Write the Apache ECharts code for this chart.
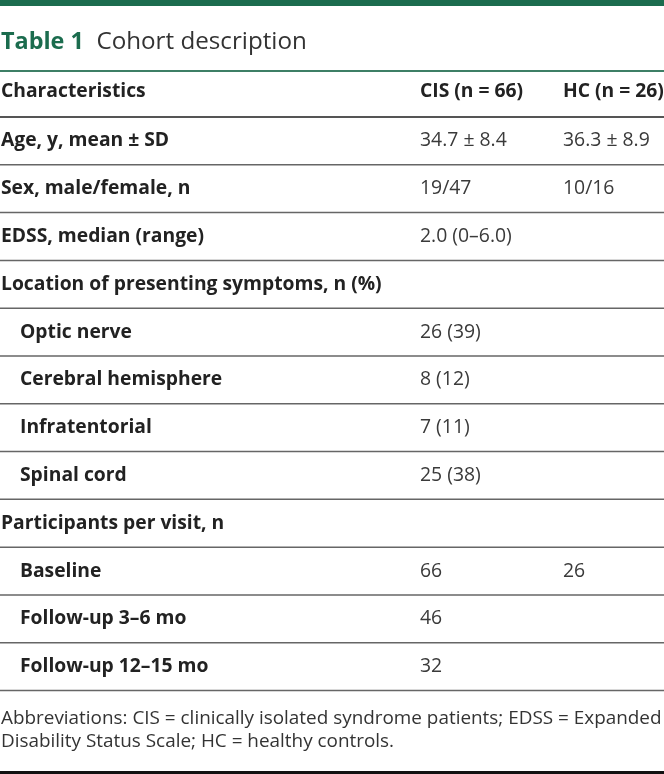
<!DOCTYPE html>
<html>
<head>
<meta charset="utf-8">
<script src="https://cdn.jsdelivr.net/npm/echarts@6/dist/echarts.min.js"></script>
<style>
  html, body { margin: 0; padding: 0; background: #ffffff; }
  #chart { width: 664px; height: 774px; }
</style>
</head>
<body>
<div id="chart"></div>
<script>
// ---- Table content ----
const tableTitleBold = 'Table 1';
const tableTitleText = 'Cohort description';
const headers = ['Characteristics', 'CIS (n = 66)', 'HC (n = 26)'];
const rowLabels = [
  'Age, y, mean ± SD',
  'Sex, male/female, n',
  'EDSS, median (range)',
  'Location of presenting symptoms, n (%)',
  'Optic nerve',
  'Cerebral hemisphere',
  'Infratentorial',
  'Spinal cord',
  'Participants per visit, n',
  'Baseline',
  'Follow-up 3–6 mo',
  'Follow-up 12–15 mo'
];
const cisValues = ['34.7 ± 8.4', '19/47', '2.0 (0–6.0)', '', '26 (39)', '8 (12)', '7 (11)', '25 (38)', '', '66', '46', '32'];
const hcValues = ['36.3 ± 8.9', '10/16', '', '', '', '', '', '', '', '26', '', ''];
const rowLevel = [0, 0, 0, 0, 1, 1, 1, 1, 0, 1, 1, 1];
const footnoteLines = [
  'Abbreviations: CIS = clinically isolated syndrome patients; EDSS = Expanded',
  'Disability Status Scale; HC = healthy controls.'
];

// ---- Layout / style ----
const W = 664, H = 774;
const FONT = '"Open Sans", "Noto Sans", sans-serif';
const GREEN = '#1b6c4e';
const colX = [1, 420, 563];
const indentX = 20;
const bodyTop = 117, bodyBottom = 690.5;
const LABEL_FONT = 'bold 19.3px ' + FONT;
const VALUE_FONT = '19.4px ' + FONT;

const chart = echarts.init(document.getElementById('chart'), null, { renderer: 'canvas' });

const option = {
  backgroundColor: '#ffffff',
  animation: false,
  grid: { left: 0, right: 0, top: bodyTop, bottom: H - bodyBottom, containLabel: false },
  xAxis: { type: 'value', min: 0, max: 1, show: false },
  yAxis: {
    type: 'category',
    data: rowLabels,
    inverse: true,
    show: false
  },
  series: [{
    type: 'custom',
    coordinateSystem: 'cartesian2d',
    data: rowLabels.map((_, i) => [0, i]),
    renderItem: function (params, api) {
      const i = api.value(1);
      const cy = api.coord([0, i])[1];
      const band = api.size([0, 1])[1];
      const children = [];
      children.push({
        type: 'text',
        style: {
          x: rowLevel[i] ? indentX : colX[0], y: cy,
          text: rowLabels[i],
          font: LABEL_FONT,
          fill: '#222222',
          verticalAlign: 'middle', align: 'left'
        }
      });
      if (cisValues[i]) children.push({
        type: 'text',
        style: {
          x: colX[1], y: cy, text: cisValues[i],
          font: VALUE_FONT, fill: '#3a3a3a',
          verticalAlign: 'middle', align: 'left'
        }
      });
      if (hcValues[i]) children.push({
        type: 'text',
        style: {
          x: colX[2], y: cy, text: hcValues[i],
          font: VALUE_FONT, fill: '#3a3a3a',
          verticalAlign: 'middle', align: 'left'
        }
      });
      children.push({
        type: 'line',
        shape: { x1: 0, y1: cy + band / 2, x2: W, y2: cy + band / 2 },
        style: { stroke: '#666666', lineWidth: 1.5 }
      });
      return { type: 'group', children: children };
    }
  }],
  graphic: [
    { type: 'rect', shape: { x: 0, y: 0, width: W, height: 6 }, style: { fill: GREEN } },
    {
      type: 'text', x: 1, y: 42,
      style: {
        text: '{b|' + tableTitleBold + '}{n|  ' + tableTitleText + '}',
        verticalAlign: 'middle',
        rich: {
          b: { font: 'bold 23.4px ' + FONT, fill: GREEN },
          n: { font: '24.2px ' + FONT, fill: '#333333' }
        }
      }
    },
    { type: 'line', shape: { x1: 0, y1: 71, x2: W, y2: 71 }, style: { stroke: '#3d7f66', lineWidth: 2 } },
    { type: 'text', x: colX[0], y: 92, style: { text: headers[0], font: LABEL_FONT, fill: '#222222', verticalAlign: 'middle' } },
    { type: 'text', x: colX[1], y: 92, style: { text: headers[1], font: LABEL_FONT, fill: '#222222', verticalAlign: 'middle' } },
    { type: 'text', x: colX[2], y: 92, style: { text: headers[2], font: LABEL_FONT, fill: '#222222', verticalAlign: 'middle' } },
    { type: 'line', shape: { x1: 0, y1: 117, x2: W, y2: 117 }, style: { stroke: '#555555', lineWidth: 2 } },
    { type: 'text', x: 1, y: 719, style: { text: footnoteLines[0], font: '18.9px ' + FONT, fill: '#333333', verticalAlign: 'middle' } },
    { type: 'text', x: 1, y: 742, style: { text: footnoteLines[1], font: '18.9px ' + FONT, fill: '#333333', verticalAlign: 'middle' } },
    { type: 'rect', shape: { x: 0, y: 771, width: W, height: 3 }, style: { fill: '#111111' } }
  ]
};
chart.setOption(option);
</script>
</body>
</html>
